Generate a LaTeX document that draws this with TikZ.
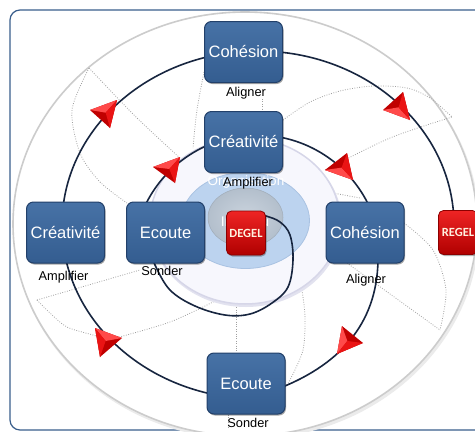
\documentclass[tikz,border=0pt]{standalone}
\usepackage{fontspec}
\setmainfont{Liberation Sans}
\newfontfamily\carl{Carlito}
\usetikzlibrary{shadows,calc}
\definecolor{framec}{HTML}{3A5E8C}
\definecolor{boxtop}{HTML}{4772A6}
\definecolor{boxbot}{HTML}{345D90}
\definecolor{boxedge}{HTML}{22406A}
\definecolor{curvec}{HTML}{17253F}
\definecolor{dotc}{HTML}{A0A0A0}
\definecolor{redtop}{HTML}{EE2424}
\definecolor{redbot}{HTML}{B00000}
\definecolor{rededge}{HTML}{8C0000}
\definecolor{redtext}{HTML}{FFF1DF}
\definecolor{ringfill}{HTML}{F7F7FD}
\definecolor{ringedge}{HTML}{D6D6E8}
\definecolor{lblue}{HTML}{BCD3EF}
\definecolor{lblueedge}{HTML}{A9C2E2}
\definecolor{gdisk}{HTML}{B3BFCC}
\definecolor{gdiskc}{HTML}{CBD4DE}
\definecolor{arrlight}{HTML}{FF4A4A}
\definecolor{arrmid}{HTML}{EA1414}
\definecolor{arrdark}{HTML}{C00000}
\newcommand{\redtri}[3]{%
  \fill[arrdark] #1 -- #2 -- #3 -- cycle;
  \fill[arrlight] #1 -- #2 -- ($0.3333*#1+0.3333*#2+0.3333*#3$) -- cycle;
  \fill[arrmid] #1 -- #3 -- ($0.3333*#1+0.3333*#2+0.3333*#3$) -- cycle;
}
\tikzset{
  bluebox/.style={rectangle, rounded corners=7pt, minimum width=78pt, minimum height=61pt,
    inner sep=0pt, draw=boxedge, line width=1pt, top color=boxtop, bottom color=boxbot,
    text=white, font=\fontsize{16.5}{18}\selectfont,
    drop shadow={shadow xshift=1pt, shadow yshift=-1.5pt, opacity=0.35, fill=black}},
  redbox/.style={rectangle, rounded corners=5pt, minimum width=39pt, minimum height=44pt,
    inner sep=0pt, draw=rededge, line width=0.8pt, top color=redtop, bottom color=redbot,
    text=redtext, font=\carl\bfseries\fontsize{12.5}{14}\selectfont,
    drop shadow={shadow xshift=1pt, shadow yshift=-1.5pt, opacity=0.3, fill=black}},
  lbl/.style={font=\fontsize{12.8}{14}\selectfont, text=black, inner sep=0pt},
  conn/.style={curvec, line width=1.6pt},
  dotl/.style={dotc, line width=0.8pt, dash pattern=on 0.8pt off 1.6pt}
}
\begin{document}
\begin{tikzpicture}[x=1pt,y=-1pt,line join=round]
\useasboundingbox (0,0) rectangle (475,432);
\clip (0,0) rectangle (475,432);
\fill[white] (0,0) rectangle (475,432);
\draw[framec, line width=1.2pt, rounded corners=10pt] (10,10) rectangle (486,430);
% big ellipse
\coordinate (bigc) at (245,224);
\fill[black!8] ($(bigc)+(1.5,2.5)$) ellipse[x radius=233pt, y radius=213pt];
\filldraw[fill=white, draw=black!20, line width=1.6pt] (bigc) ellipse[x radius=232pt, y radius=212pt];
% dotted guides
\draw[dotl] plot[smooth] coordinates {(89,68) (72,110) (80,153) (100,182) (127,203)};
\draw[dotl] plot[smooth] coordinates {(89,68) (135,116) (180,158)};
\draw[dotl] plot[smooth] coordinates {(204,72) (197,110) (193,148)};
\draw[dotl] (262,99) -- (262,112);
\draw[dotl] plot[smooth] coordinates {(283,120) (310,102) (340,91) (373,86) (407,88) (430,98) (452,117)};
\draw[dotl] plot[smooth] coordinates {(325,170) (390,138) (452,117)};
\draw[dotl] (333,193) -- (360,198);
\draw[dotl] plot[smooth] coordinates {(404,223) (433,250) (446,290) (440,330)};
\draw[dotl] (347,263) -- (440,330);
\draw[dotl] plot[smooth] coordinates {(302,290) (305,317) (303,350) (290,380) (285,387)};
\draw[dotl] (236,300) -- (236,352);
\draw[dotl] (228,415) -- (228,428);
\draw[dotl] plot[smooth] coordinates {(112,339) (170,322) (217,300)};
\draw[dotl] plot[smooth] coordinates {(37,300) (50,313) (67,327) (93,335) (110,340)};
\draw[dotl] (37,300) -- (140,270);
% central disks
\coordinate (ringc) at (245,221);
\fill[ringedge!70] ($(ringc)+(1,2)$) ellipse[x radius=96pt, y radius=84pt];
\filldraw[fill=ringfill, draw=ringedge, line width=1.5pt] (ringc) ellipse[x radius=95pt, y radius=83pt];
\coordinate (bluec) at (245.5,220.5);
\filldraw[fill=lblue, draw=lblueedge, line width=0.8pt] (bluec) ellipse[x radius=64pt, y radius=48pt];
\coordinate (grayc) at (245.5,217.5);
\shade[inner color=gdiskc, outer color=gdisk] (grayc) ellipse[x radius=37.5pt, y radius=29.5pt];
\draw[gdisk!90!black, line width=0.5pt] (grayc) ellipse[x radius=37.5pt, y radius=29.5pt];
\node[text=white, font=\fontsize{13.5}{15}\selectfont, inner sep=0pt] (orgtxt) at (246,182) {Organisation};
\node[text=white, font=\fontsize{14}{15}\selectfont, inner sep=0pt] (indtxt) at (245,221) {Individu};
% outer cycle
\coordinate (oc) at (258,225);
\draw[conn] ($(oc)+(-100:196pt and 174pt)$) arc[start angle=-100, end angle=-178, x radius=196pt, y radius=174pt];
\draw[conn] ($(oc)+(-182:196pt and 174pt)$) arc[start angle=-182, end angle=-268, x radius=196pt, y radius=174pt];
\draw[conn] ($(oc)+(-272:196pt and 174pt)$) arc[start angle=-272, end angle=-357, x radius=196pt, y radius=174pt];
% inner cycle
\coordinate (ic) at (257,259);
\draw[conn] ($(ic)+(-205:124pt)$) arc[start angle=-205, end angle=-250, radius=124pt];
\draw[conn] ($(ic)+(-278:124pt)$) arc[start angle=-278, end angle=-335, radius=124pt];
\draw[conn] (378,255) .. controls (379,320) and (343,363) .. (280,388);
\draw[conn] plot[smooth, tension=0.6] coordinates {(150,250) (155,265) (170,290) (195,306) (225,315) (250,314) (272,303) (288,287) (293,260) (290,235) (280,222) (266,216) (255,214)};
% arrows
\redtri{(117,100)}{(90,110)}{(110,128)}
\redtri{(410,120)}{(383,110)}{(403,92)}
\redtri{(95,328)}{(122,338)}{(100,357)}
\redtri{(180,157)}{(153,167)}{(175,183)}
\redtri{(353,180)}{(325,170)}{(347,153)}
\redtri{(337,354)}{(342,326)}{(363,343)}
% boxes
\node[bluebox] (cohT) at (243.5,52) {Cohésion};
\node[bluebox] (creI) at (243.5,142) {Créativité};
\node[bluebox] (creL) at (65.5,232.5) {Créativité};
\node[bluebox] (ecoI) at (165.5,232.5) {Ecoute};
\node[bluebox] (cohI) at (365,232.5) {Cohésion};
\node[bluebox] (ecoB) at (246,383.5) {Ecoute};
\node[redbox] (degel) at (246,233) {DEGEL};
\node[redbox] (regel) at (458,232.5) {REGEL};
% labels
\node[lbl] (alT) at (246,93) {Aligner};
\node[lbl] (amI) at (248,183) {Amplifier};
\node[lbl] (amL) at (63.5,277) {Amplifier};
\node[lbl] (soI) at (162,271) {Sonder};
\node[lbl] (alI) at (366,280) {Aligner};
\node[lbl] (soB) at (248,423) {Sonder};
\end{tikzpicture}
\end{document}
